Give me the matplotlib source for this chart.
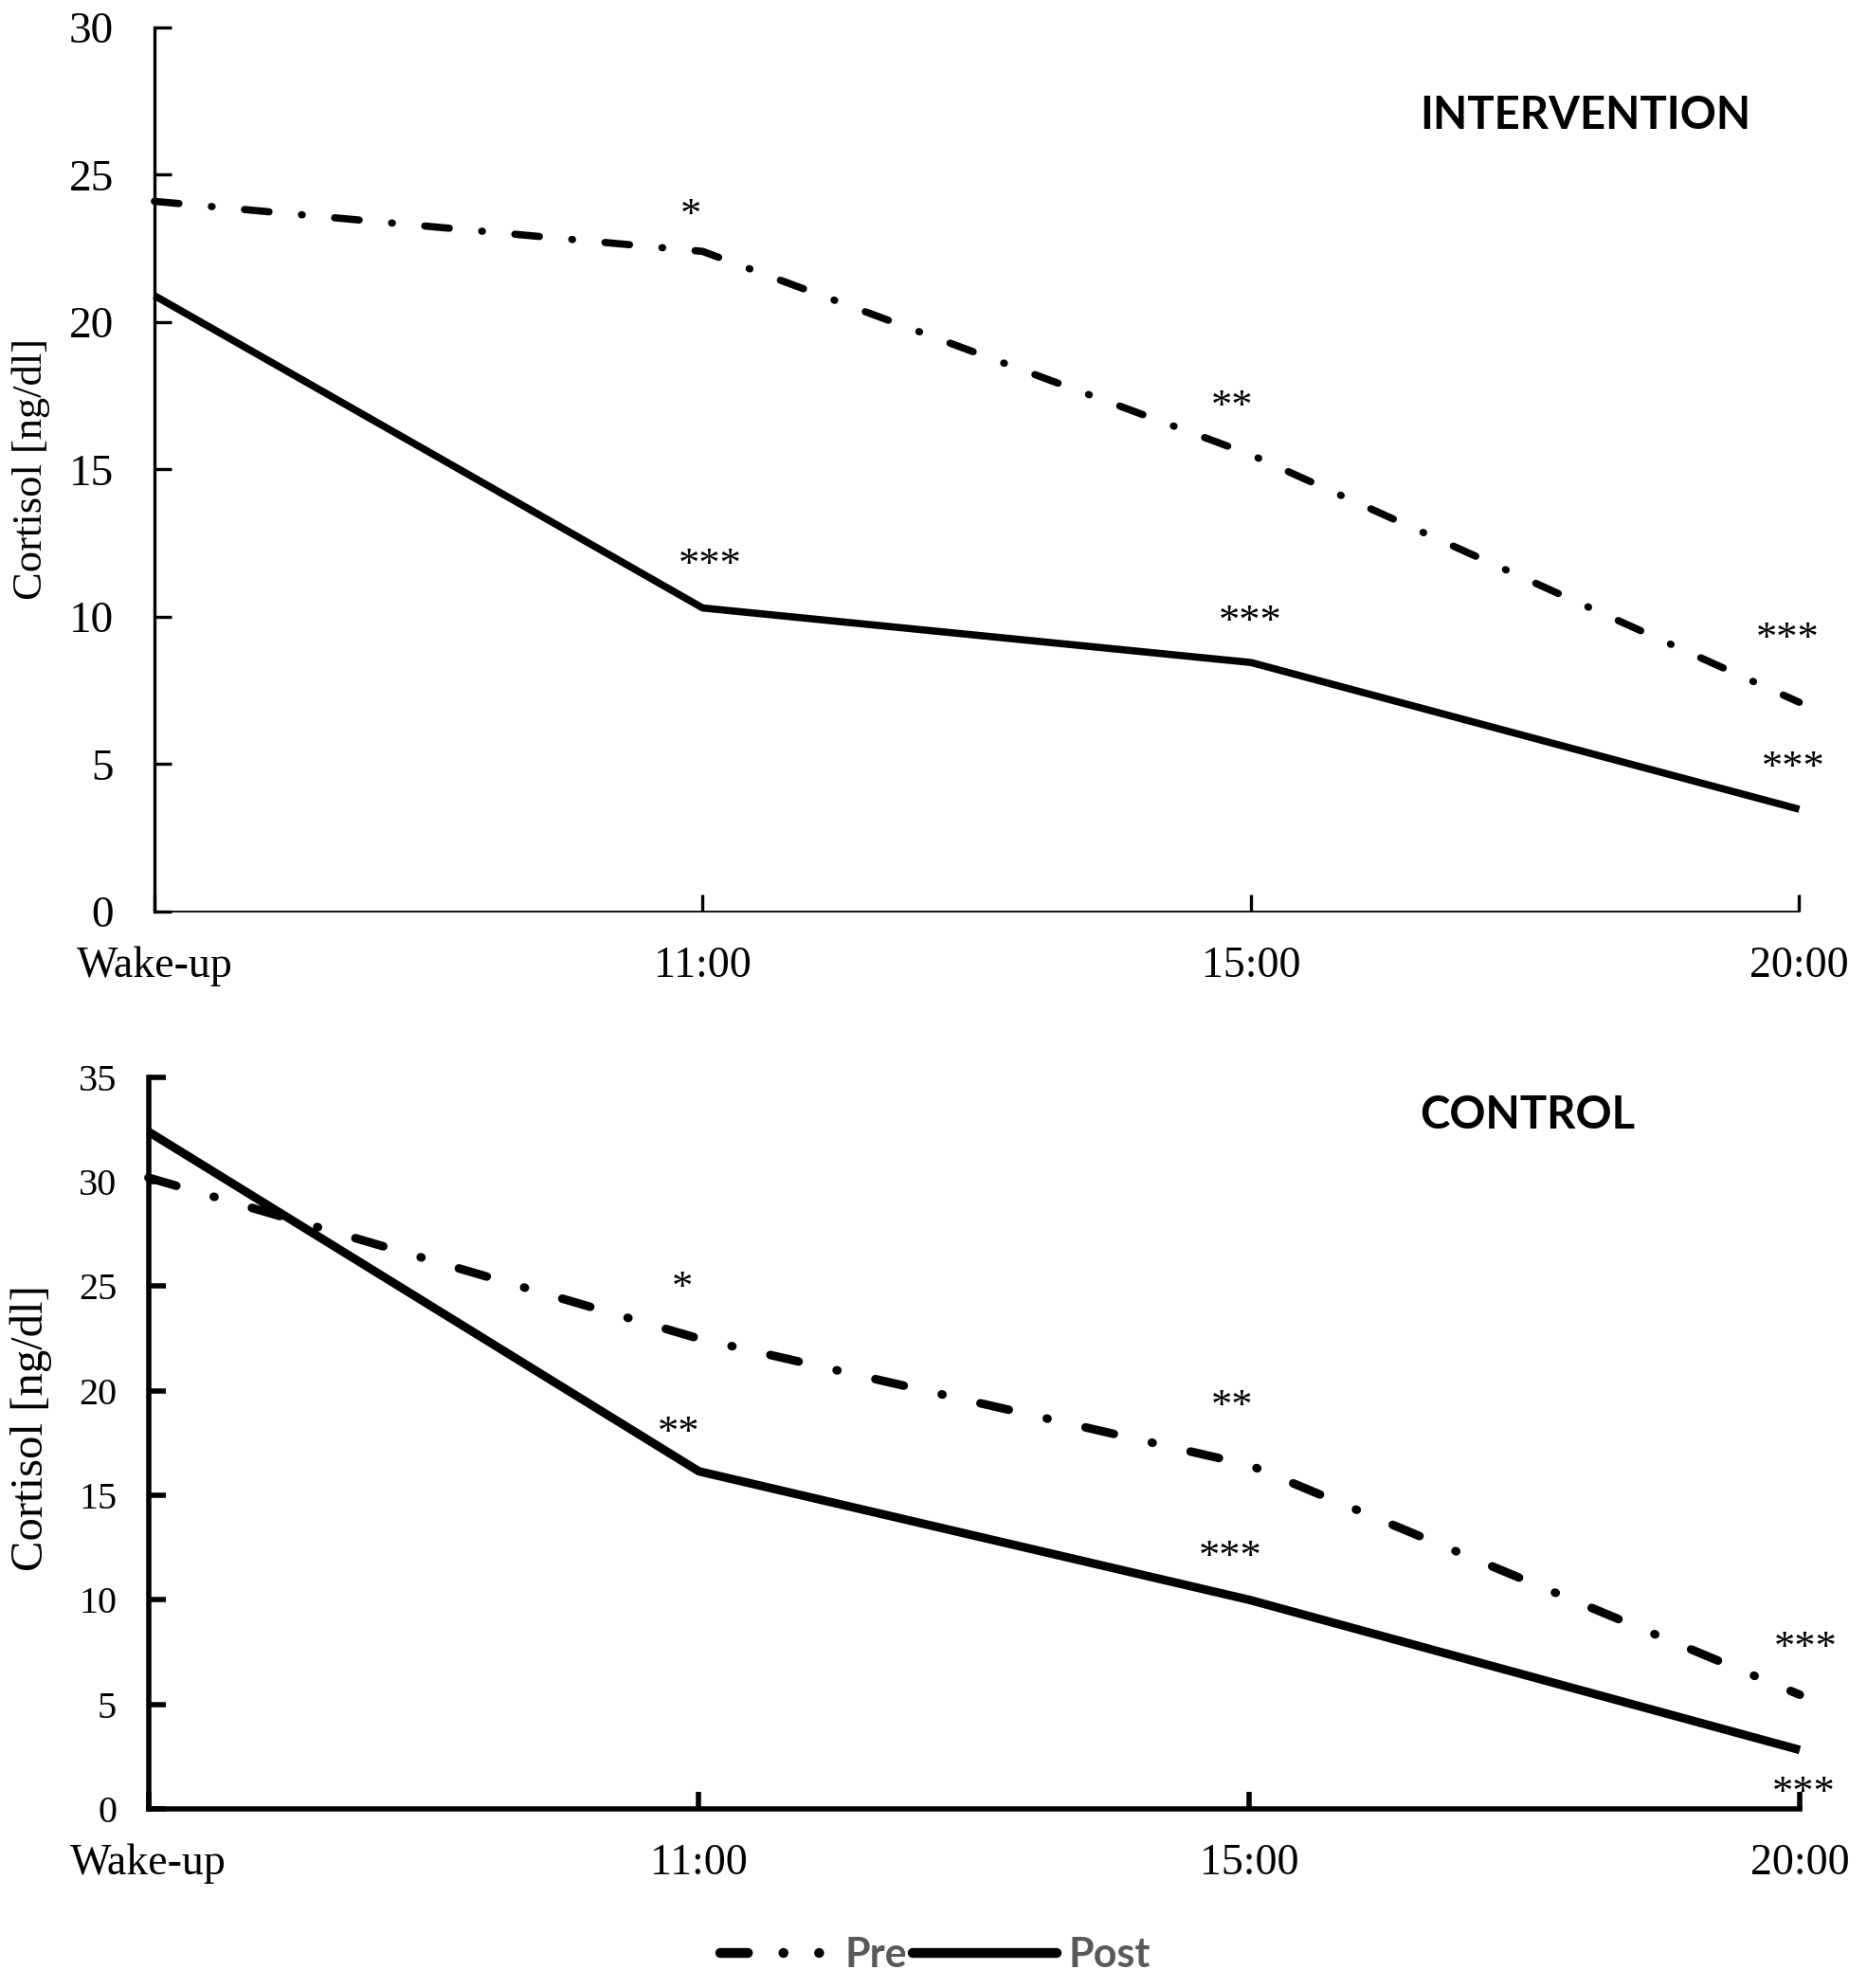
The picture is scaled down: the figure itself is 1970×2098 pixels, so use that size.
import numpy as np
import matplotlib.pyplot as plt
from matplotlib.lines import Line2D
from matplotlib.legend_handler import HandlerLine2D

times = ["Wake-up", "11:00", "15:00", "20:00"]

interv_pre = [24.1, 22.4, 15.5, 7.1]
interv_post = [20.9, 10.3, 8.45, 3.47]
control_pre = [30.2, 22.5, 16.45, 5.46]
control_post = [32.4, 16.15, 10.0, 2.82]

# significance marks: (x position, text baseline in data units, label)
interv_stars = [(0.978, 23.25, "*"), (1.013, 11.39, "***"), (1.965, 16.76, "**"),
                (1.998, 9.46, "***"), (2.979, 8.88, "***"), (2.989, 4.51, "***")]
control_stars = [(0.970, 24.37, "*"), (0.963, 17.43, "**"), (1.969, 18.7, "**"),
                 (1.965, 11.5, "***"), (3.011, 7.15, "***"), (3.007, 0.21, "***")]

serif = "Liberation Serif"
sans = "Lato"

fig = plt.figure(figsize=(19.7, 20.98), dpi=100)
ax1 = fig.add_axes([0.0827, 0.5415, 0.881, 0.4447])
ax2 = fig.add_axes([0.0795, 0.0901, 0.8845, 0.368])

x = np.arange(len(times))


def setup(ax, ymax, ystep, spine_y, spine_x, ylab_size, ytick_size, ypad):
    for s in ["top", "right"]:
        ax.spines[s].set_visible(False)
    ax.spines["left"].set_linewidth(spine_y)
    ax.spines["bottom"].set_linewidth(spine_x)
    ax.set_xlim(0, 3)
    ax.set_ylim(0, ymax)
    ax.set_xticks(x)
    ax.set_xticklabels(times, fontfamily=serif, fontsize=33)
    yt = np.arange(0, ymax + 0.1, ystep)
    ax.set_yticks(yt)
    ax.set_yticklabels([str(int(v)) for v in yt], fontfamily=serif, fontsize=ytick_size)
    ax.tick_params(axis="x", direction="in", length=13, width=spine_y, pad=26)
    ax.tick_params(axis="y", direction="in", length=13, width=spine_y, pad=ypad)
    ax.set_ylabel("Cortisol [ng/dl]", fontfamily=serif, fontsize=ylab_size)


setup(ax1, 30, 5, 2.4, 1.3, 32, 34, 31)
setup(ax2, 35, 5, 4.0, 4.0, 35, 29, 24)
ax1.yaxis.set_label_coords(-0.075, 0.5)
ax1.yaxis.label.set_va("center")
ax2.yaxis.set_label_coords(-0.071, 0.52)
ax2.yaxis.label.set_va("center")

# top panel
ax1.plot(x, interv_pre, color="black", lw=5.5, dashes=(3.4, 4.5, 0.1, 4.5),
         dash_capstyle="round", clip_on=False)
ax1.plot(x, interv_post, color="black", lw=5.5, solid_capstyle="butt", clip_on=False)
for xs, ys, t in interv_stars:
    ax1.text(xs, ys, t, fontfamily=serif, fontsize=32, ha="center", va="baseline")
ax1.text(0.870, 0.900, "INTERVENTION", transform=ax1.transAxes, fontfamily=sans,
         fontweight="bold", fontsize=34, ha="center", va="center")

# bottom panel
ax2.plot(x, control_pre, color="black", lw=6.5, dashes=(3.4, 4.55, 0.1, 4.55),
         dash_capstyle="round", clip_on=False)
ax2.plot(x, control_post, color="black", lw=6.5, solid_capstyle="butt", clip_on=False)
for xs, ys, t in control_stars:
    ax2.text(xs, ys, t, fontfamily=serif, fontsize=32, ha="center", va="baseline",
             clip_on=False)
ax2.text(0.835, 0.948, "CONTROL", transform=ax2.transAxes, fontfamily=sans,
         fontweight="bold", fontsize=34, ha="center", va="center")

# legend
h_pre = Line2D([], [], color="black", lw=7.5, dashes=(2.8, 3.6, 0.01, 3.6, 0.01, 10),
               dash_capstyle="round")
h_post = Line2D([], [], color="black", lw=7.5, solid_capstyle="round")
leg = fig.legend([h_pre, h_post], ["Pre", "Post"], loc="center left",
                 bbox_to_anchor=(0.358, 0.0167), ncol=2, frameon=False,
                 borderpad=0, handlelength=3.52, handletextpad=0.3,
                 columnspacing=0.15,
                 handler_map={h_pre: HandlerLine2D(xpad=0.76)},
                 prop={"family": sans, "weight": "bold", "size": 31})
for t in leg.get_texts():
    t.set_color("#595959")

fig.savefig("out.png", dpi=100, facecolor="white")
